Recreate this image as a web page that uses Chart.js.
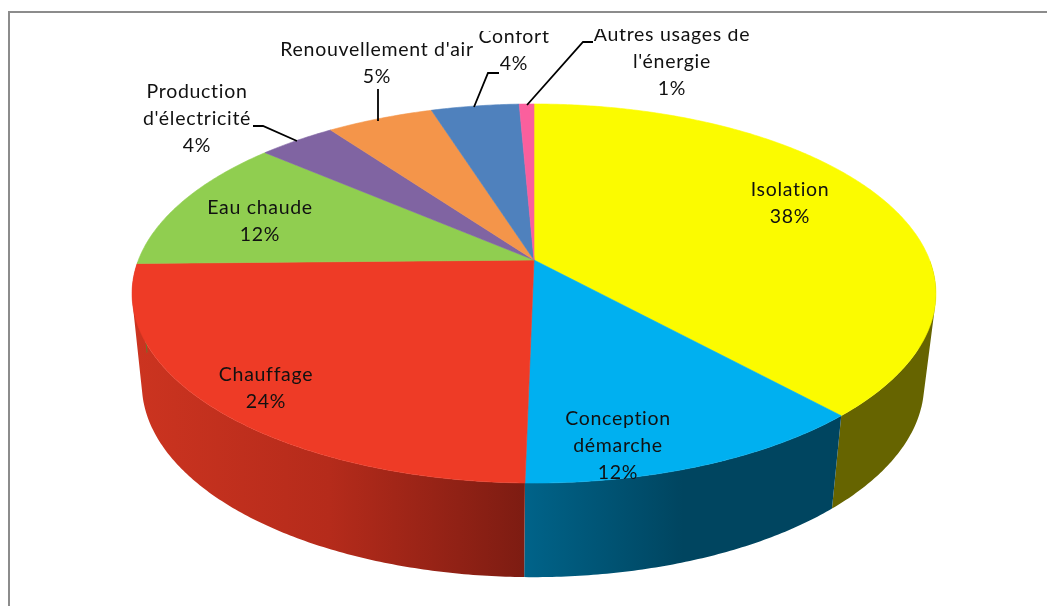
<!DOCTYPE html>
<html>
<head>
<meta charset="utf-8">
<style>
    html, body { margin: 0; padding: 0; background: #fff; }
    canvas { display: block; }
</style>
<script src="https://cdn.jsdelivr.net/npm/chart.js@4"></script>
</head>
<body>
<canvas id="chart" width="1047" height="606"></canvas>
<script>
const categories = ["Isolation", "Conception démarche", "Chauffage", "Eau chaude", "Production d'électricité", "Renouvellement d'air", "Confort", "Autres usages de l'énergie"];
const values = [38.2, 12.1, 24.4, 11.6, 3.7, 5.1, 4.2, 0.7];
const labelLines = [["Isolation"], ["Conception", "démarche"], ["Chauffage"], ["Eau chaude"], ["Production", "d'électricité"], ["Renouvellement d'air"], ["Confort"], ["Autres usages de", "l'énergie"]];

const topColors = ["#fbfb00", "#00b0f0", "#ee3b26", "#90ce50", "#8064a2", "#f4954a", "#4f81bd", "#fb5f9d"];
const wallColors = [
    ["#666400", "#666400", "#666400"],
    ["#006389", "#004560", "#004560"],
    ["#cc3420", "#b52b1b", "#7d1c12"],
    ["#5a8030", "#5a8030", "#5a8030"],
    ["#4d3c61", "#4d3c61", "#4d3c61"],
    ["#945a2a", "#945a2a", "#945a2a"],
    ["#2f4d71", "#2f4d71", "#2f4d71"],
    ["#973a5e", "#973a5e", "#973a5e"]
];

// label centre x and first line y, in chart order
const labelPos = [[790, 190], [618, 419], [266, 375], [260, 208], [197, 92], [377, 50], [514, 37], [672, 35]];
// the reference cuts a few labels off, [top, bottom] of what stays visible
const labelClip = [null, null, null, null, [0, 153], null, [31, 606], [29, 606]];
const leaderLines = [
    null, null, null, null,
    [[253, 126], [263, 126], [297, 141]],
    [[378, 89], [378, 121]],
    [[499, 73], [488, 73], [474, 107]],
    [[593, 42], [583, 42], [527, 105]]
];

// perspective of the disc, the pie is flat in chart.js and gets projected here
const persp = 0.1768;
const topDisc = { x: 534, y: 260, rx: 395.6, ry: 183.6 };
const bottomDisc = { x: 533, y: 350, rx: 385, ry: 187 };

function project(disc, a) {
    const u = Math.cos(a), v = Math.sin(a);
    const w = 1 - persp * v;
    return [disc.x + disc.rx * u / w, disc.y + disc.ry * v / w];
}

function arcAngles(a0, a1) {
    const n = Math.max(2, Math.ceil(Math.abs(a1 - a0) / 0.01));
    const out = [];
    for (let i = 0; i <= n; i++) {
        out.push(a0 + (a1 - a0) * i / n);
    }
    return out;
}

function addPoly(ctx, pts) {
    pts.forEach((p, i) => i ? ctx.lineTo(p[0], p[1]) : ctx.moveTo(p[0], p[1]));
    ctx.closePath();
}

function signedArea(pts) {
    let s = 0;
    pts.forEach((p, i) => {
        const q = pts[(i + 1) % pts.length];
        s += p[0] * q[1] - q[0] * p[1];
    });
    return s;
}

const pie3d = {
    id: "pie3d",
    beforeDatasetsDraw(chart) {
        const ctx = chart.ctx;
        const arcs = chart.getDatasetMeta(0).data;

        // frame
        ctx.save();
        ctx.strokeStyle = "#8c8c8c";
        ctx.lineWidth = 2;
        ctx.beginPath();
        ctx.moveTo(9, 606);
        ctx.lineTo(9, 12);
        ctx.lineTo(1047, 12);
        ctx.stroke();

        // walls, thin quads in one path so the side edges get filled too. Only the front half shows
        arcs.forEach((arc, i) => {
            const angles = arcAngles(arc.startAngle, arc.endAngle);
            const xs = angles.map(a => project(topDisc, a)[0]);
            const g = ctx.createLinearGradient(Math.min(...xs), 0, Math.max(...xs), 0);
            wallColors[i].forEach((c, k) => g.addColorStop(k / 2, c));
            ctx.fillStyle = g;
            ctx.beginPath();
            for (let k = 0; k < angles.length - 1; k++) {
                const a0 = angles[k], a1 = angles[k + 1];
                if (Math.sin(a0) < 0 || Math.sin(a1) < 0) continue;
                const quad = [project(topDisc, a0), project(topDisc, a1), project(bottomDisc, a1), project(bottomDisc, a0)];
                // same winding for all, or the overlap at the sides cancels out
                addPoly(ctx, signedArea(quad) < 0 ? quad.reverse() : quad);
            }
            ctx.fill();
        });

        // top face
        arcs.forEach((arc, i) => {
            const pts = arcAngles(arc.startAngle, arc.endAngle).map(a => project(topDisc, a));
            ctx.beginPath();
            addPoly(ctx, [[topDisc.x, topDisc.y]].concat(pts));
            ctx.fillStyle = topColors[i];
            ctx.strokeStyle = topColors[i];
            ctx.lineWidth = 0.6;
            ctx.fill();
            ctx.stroke();
        });

        // leader lines
        ctx.strokeStyle = "#000";
        ctx.lineWidth = 1.8;
        leaderLines.forEach(line => {
            if (!line) return;
            ctx.beginPath();
            line.forEach((p, k) => k ? ctx.lineTo(p[0], p[1]) : ctx.moveTo(p[0], p[1]));
            ctx.stroke();
        });

        // labels
        ctx.fillStyle = "#111";
        ctx.font = "19.5px Lato";
        ctx.letterSpacing = "0.7px";
        ctx.textAlign = "center";
        ctx.textBaseline = "middle";
        categories.forEach((name, i) => {
            const lines = labelLines[i].concat(Math.round(values[i]) + "%");
            ctx.save();
            if (labelClip[i]) {
                ctx.beginPath();
                ctx.rect(0, labelClip[i][0], 1047, labelClip[i][1] - labelClip[i][0]);
                ctx.clip();
            }
            lines.forEach((t, k) => ctx.fillText(t, labelPos[i][0], labelPos[i][1] + k * 27));
            ctx.restore();
        });
        ctx.restore();
        return false;
    }
};

new Chart(document.getElementById("chart"), {
    type: "pie",
    data: {
        labels: categories,
        datasets: [{ data: values, backgroundColor: topColors, borderWidth: 0 }]
    },
    options: {
        responsive: false,
        animation: false,
        plugins: { legend: { display: false }, tooltip: { enabled: false } }
    },
    plugins: [pie3d]
});
</script>
</body>
</html>
